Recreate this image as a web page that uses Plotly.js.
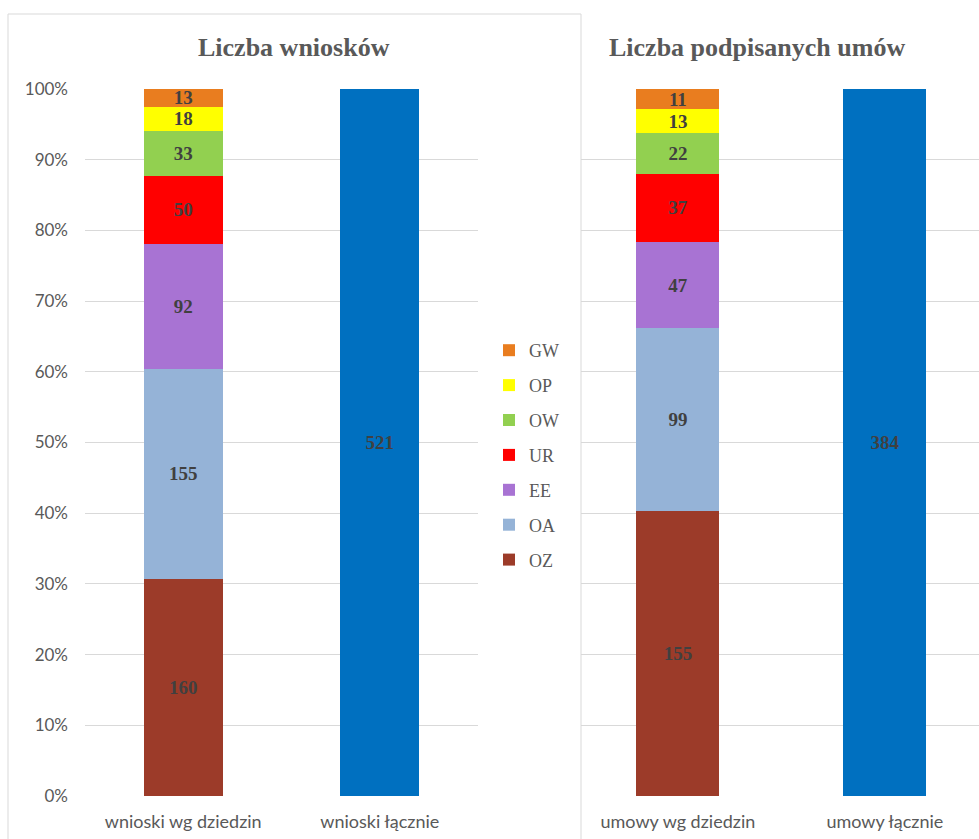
<!DOCTYPE html>
<html>
<head>
<meta charset="utf-8">
<script src="https://cdn.plot.ly/plotly-3.0.1.min.js"></script>
<style>
html,body{margin:0;padding:0;background:#fff;overflow:hidden;}
#chart{width:1000px;height:839px;}
</style>
</head>
<body>
<div id="chart"></div>
<script>
// ---- data ----
const fields = ["OZ", "OA", "EE", "UR", "OW", "OP", "GW"];
const fieldColors = ["#9c3b29", "#95b3d7", "#a873d3", "#ff0000", "#92d050", "#ffff00", "#e97d1f"];
const wnioskiValues = [160, 155, 92, 50, 33, 18, 13];
const umowyValues = [155, 99, 47, 37, 22, 13, 11];
const wnioskiCategories = ["wnioski wg dziedzin", "wnioski łącznie"];
const umowyCategories = ["umowy wg dziedzin", "umowy łącznie"];
const wnioskiTotal = [521];
const umowyTotal = [384];
const totalColor = "#0070c0";
const titles = ["Liczba wniosków", "Liczba podpisanych umów"];
const yTickVals = [0, 10, 20, 30, 40, 50, 60, 70, 80, 90, 100];
const yTickText = ["0%", "10%", "20%", "30%", "40%", "50%", "60%", "70%", "80%", "90%", "100%"];

const W = 1000, H = 839;
const px = v => v / W;
const py = v => (H - v) / H;

const labelFont = {family: "Liberation Serif, Times New Roman, serif", size: 19, color: "#404040", weight: "bold"};

const traces = [];
fields.forEach((f, i) => {
  traces.push({
    type: "bar", name: f, legendgroup: f, legendrank: fields.length - i,
    x: [wnioskiCategories[0]], y: [wnioskiValues[i]],
    xaxis: "x", yaxis: "y",
    marker: {color: fieldColors[i]},
    text: [String(wnioskiValues[i])], texttemplate: "%{text}",
    textposition: "inside", insidetextanchor: "middle", textangle: 0, constraintext: "none",
    insidetextfont: labelFont, hoverinfo: "none", width: 0.4
  });
  traces.push({
    type: "bar", name: f, legendgroup: f, showlegend: false, legendrank: fields.length - i,
    x: [umowyCategories[0]], y: [umowyValues[i]],
    xaxis: "x2", yaxis: "y2",
    marker: {color: fieldColors[i]},
    text: [String(umowyValues[i])], texttemplate: "%{text}",
    textposition: "inside", insidetextanchor: "middle", textangle: 0, constraintext: "none",
    insidetextfont: labelFont, hoverinfo: "none", width: 0.4
  });
});
traces.push({
  type: "bar", name: "wnioski łącznie", showlegend: false,
  x: [wnioskiCategories[1]], y: wnioskiTotal, xaxis: "x", yaxis: "y",
  marker: {color: totalColor},
  text: wnioskiTotal.map(String), texttemplate: "%{text}",
  textposition: "inside", insidetextanchor: "middle", textangle: 0, constraintext: "none",
  insidetextfont: labelFont, hoverinfo: "none", width: 0.4
});
traces.push({
  type: "bar", name: "umowy łącznie", showlegend: false,
  x: [umowyCategories[1]], y: umowyTotal, xaxis: "x2", yaxis: "y2",
  marker: {color: totalColor},
  text: umowyTotal.map(String), texttemplate: "%{text}",
  textposition: "inside", insidetextanchor: "middle", textangle: 0, constraintext: "none",
  insidetextfont: labelFont, hoverinfo: "none", width: 0.4
});

const tickFont = {family: "Lato, Open Sans, sans-serif", size: 17, color: "#595959"};
const xTickFont = {family: "Lato, Open Sans, sans-serif", size: 18, color: "#595959"};
const yDomain = [py(796), py(89)];

const layout = {
  width: W, height: H,
  margin: {l: 0, r: 0, t: 0, b: 0},
  paper_bgcolor: "#ffffff", plot_bgcolor: "rgba(0,0,0,0)",
  barmode: "stack", barnorm: "percent",
  showlegend: true,
  legend: {
    x: px(489), y: py(332), xanchor: "left", yanchor: "top",
    traceorder: "grouped", tracegroupgap: 8.5,
    font: {family: "Liberation Serif, Times New Roman, serif", size: 18, color: "#595959"},
    bgcolor: "rgba(0,0,0,0)", itemwidth: 30
  },
  xaxis: {
    domain: [px(85), px(478)], range: [-0.5, 1.5], type: "category",
    categoryarray: wnioskiCategories, categoryorder: "array",
    showgrid: false, zeroline: false, showline: false, ticks: "",
    ticklabelstandoff: 13, tickfont: xTickFont, fixedrange: true
  },
  yaxis: {
    domain: yDomain, range: [0, 100], tickvals: yTickVals, ticktext: yTickText,
    showgrid: true, gridcolor: "#d9d9d9", gridwidth: 1, zeroline: false, showline: false,
    ticks: "", ticklabelstandoff: 16, tickfont: tickFont, fixedrange: true
  },
  xaxis2: {
    domain: [px(581), px(581 + 1.968 * 207)], range: [-0.468, 1.5], type: "category",
    categoryarray: umowyCategories, categoryorder: "array",
    showgrid: false, zeroline: false, showline: false, ticks: "",
    ticklabelstandoff: 13, tickfont: xTickFont, anchor: "y2", fixedrange: true
  },
  yaxis2: {
    domain: yDomain, range: [0, 100], tickvals: yTickVals, anchor: "x2",
    showgrid: true, gridcolor: "#d9d9d9", gridwidth: 1, zeroline: false, showline: false,
    showticklabels: false, ticks: "", fixedrange: true
  },
  shapes: [
    {type: "rect", xref: "paper", yref: "paper", x0: px(8), x1: px(581), y0: -0.05, y1: py(14),
     line: {color: "#d9d9d9", width: 1}, fillcolor: "rgba(0,0,0,0)", layer: "below"}
  ],
  annotations: [
    {text: titles[0], xref: "paper", yref: "paper", x: px(294), y: py(48), xanchor: "center", yanchor: "middle",
     showarrow: false, font: {family: "Liberation Serif, Times New Roman, serif", size: 26, color: "#595959", weight: "bold"}},
    {text: titles[1], xref: "paper", yref: "paper", x: px(757), y: py(48), xanchor: "center", yanchor: "middle",
     showarrow: false, font: {family: "Liberation Serif, Times New Roman, serif", size: 26, color: "#595959", weight: "bold"}}
  ]
};

Plotly.newPlot("chart", traces, layout, {staticPlot: true, displayModeBar: false});
</script>
</body>
</html>
